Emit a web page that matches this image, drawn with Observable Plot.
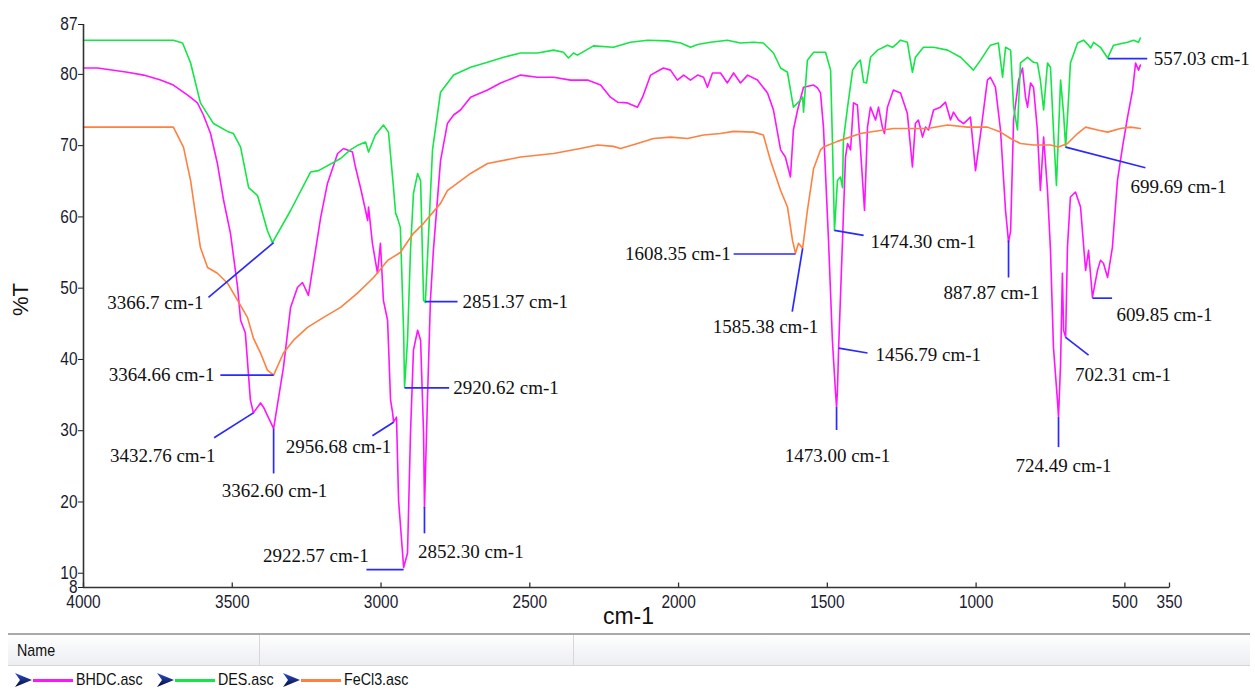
<!DOCTYPE html>
<html><head><meta charset="utf-8">
<script src="https://cdn.jsdelivr.net/npm/d3@7"></script>
<script src="https://cdn.jsdelivr.net/npm/@observablehq/plot@0.6"></script>
<style>
body{margin:0;background:#fff;width:1255px;height:690px;overflow:hidden;font-family:"Liberation Sans",Arial,sans-serif}
#chart svg{display:block}
.panel{position:relative;height:57px;width:1255px}
.panel .gl{position:absolute;left:8px;right:5px;top:0;height:2px;background:#a9a9a9}
.panel .hdr{position:absolute;left:8px;right:5px;top:2px;height:30px;background:linear-gradient(#fefefe,#eceef2);border-bottom:1px solid #d6d6d6}
.panel .sep{position:absolute;top:2px;height:30px;width:1px;background:#d8d8d8}
.panel .nm{position:absolute;left:17px;top:8px;font-size:17px;color:#111;transform:scaleX(0.84);transform-origin:left center}
.panel .it{position:absolute;top:37px;height:20px;font-size:17px;color:#111;line-height:20px;transform:scaleX(0.84);transform-origin:left center;white-space:nowrap}
.panel .sw{position:absolute;top:46px;height:3px}
</style></head><body>
<div id="chart"></div>
<div class="panel" id="panel">
  <div class="gl"></div><div class="hdr"></div>
  <div class="sep" style="left:259px"></div><div class="sep" style="left:573px"></div>
  <div class="nm">Name</div>
</div>
<script>
// Series: [wavenumber cm-1, %T]
const bhdc = [[4000,80.9],[3953,80.9],[3852,80.3],[3798,79.9],[3741,79.2],[3698,78.5],[3650,77.1],[3617,76.0],[3597,74.3],[3573,71.7],[3550,67.5],[3529,62.3],[3506,57.7],[3482,50.1],[3472,45.5],[3456,43.7],[3439,34.3],[3429,32.5],[3405,33.9],[3395,33.3],[3361,30.3],[3328,38.9],[3304,47.3],[3281,50.1],[3264,50.8],[3244,49.0],[3227,53.5],[3203,59.9],[3180,64.7],[3146,68.9],[3126,69.6],[3096,69.1],[3086,67.0],[3069,64.1],[3052,60.9],[3045,59.5],[3042,61.4],[3029,56.3],[3012,52.1],[3002,56.3],[2992,48.3],[2978,45.5],[2968,34.3],[2961,32.5],[2958,31.2],[2948,31.9],[2941,20.2],[2924,10.8],[2911,12.8],[2901,29.6],[2891,41.3],[2877,44.1],[2867,42.7],[2857,29.6],[2854,19.2],[2844,34.3],[2834,48.3],[2824,55.3],[2800,67.9],[2777,73.1],[2756,74.3],[2733,75.0],[2699,76.8],[2642,77.8],[2598,78.8],[2531,79.9],[2474,79.6],[2420,79.6],[2363,79.2],[2306,79.2],[2262,78.5],[2229,76.8],[2205,76.1],[2172,76.0],[2138,75.4],[2121,76.8],[2094,79.9],[2051,80.9],[2027,80.6],[2004,79.2],[1983,79.9],[1960,79.2],[1936,79.9],[1916,79.6],[1903,78.2],[1886,80.2],[1859,80.2],[1836,78.8],[1815,80.2],[1792,78.8],[1768,79.9],[1735,79.2],[1701,77.4],[1681,75.0],[1657,69.4],[1641,68.4],[1624,65.6],[1614,72.2],[1600,75.0],[1580,78.2],[1546,78.5],[1533,78.1],[1523,77.4],[1513,72.6],[1496,56.7],[1483,42.7],[1473,35.7],[1469,33.3],[1466,35.7],[1462,41.6],[1449,56.7],[1439,68.4],[1432,70.3],[1422,69.4],[1412,76.0],[1399,75.7],[1389,69.8],[1375,60.9],[1365,72.6],[1355,75.4],[1338,73.6],[1328,75.4],[1315,72.6],[1308,71.7],[1298,75.4],[1278,77.8],[1254,77.4],[1231,74.5],[1214,67.0],[1204,73.1],[1194,73.6],[1180,71.2],[1170,72.6],[1160,72.2],[1143,75.0],[1120,75.4],[1103,76.1],[1086,73.6],[1076,74.7],[1059,73.6],[1042,73.1],[1019,74.0],[1002,66.5],[985,71.7],[962,79.2],[952,79.6],[935,78.2],[918,72.2],[901,60.9],[891,56.5],[884,58.0],[874,73.6],[857,79.2],[844,80.9],[834,76.8],[827,75.4],[817,78.8],[807,78.2],[794,72.2],[784,63.7],[773,71.2],[760,63.7],[750,55.3],[740,41.7],[726,33.9],[723,31.9],[716,39.5],[710,52.1],[706,44.1],[699,43.1],[693,55.7],[683,62.8],[666,63.5],[649,61.4],[632,52.5],[622,55.3],[609,48.7],[592,52.5],[582,53.9],[572,53.5],[558,51.5],[542,55.7],[525,65.1],[508,69.8],[491,74.0],[474,77.8],[464,81.6],[454,80.6],[448,81.3]];

const des = [[4000,84.8],[3698,84.8],[3667,84.4],[3640,81.6],[3607,76.0],[3563,73.1],[3516,72.0],[3496,71.7],[3472,69.8],[3445,64.1],[3415,63.0],[3382,58.1],[3365,56.4],[3304,60.9],[3237,66.3],[3210,66.5],[3136,68.2],[3103,69.4],[3076,70.1],[3052,70.5],[3042,69.1],[3019,71.5],[2992,72.9],[2975,71.9],[2958,64.1],[2951,60.5],[2945,59.9],[2935,58.5],[2924,43.7],[2921,36.1],[2911,42.7],[2901,55.3],[2891,63.3],[2877,66.1],[2867,65.1],[2857,48.3],[2851,48.0],[2840,57.7],[2827,69.4],[2810,74.5],[2800,77.5],[2756,79.9],[2699,81.0],[2642,81.7],[2588,82.4],[2531,83.0],[2474,83.0],[2420,83.4],[2387,83.1],[2370,82.3],[2353,83.0],[2340,82.7],[2286,84.0],[2219,83.8],[2162,84.5],[2104,84.8],[2037,84.7],[1993,84.4],[1960,83.8],[1936,84.2],[1893,84.5],[1836,84.8],[1792,84.4],[1748,84.5],[1715,84.4],[1681,83.0],[1657,80.9],[1634,80.3],[1614,75.4],[1597,76.1],[1583,76.8],[1580,74.7],[1567,82.0],[1546,83.1],[1506,83.1],[1489,80.6],[1483,70.8],[1476,58.1],[1466,65.1],[1456,65.6],[1449,64.1],[1446,70.8],[1432,75.4],[1415,80.6],[1399,81.6],[1389,82.0],[1378,78.9],[1368,78.8],[1355,82.4],[1331,83.4],[1298,84.1],[1281,83.8],[1264,84.4],[1254,84.8],[1231,84.5],[1214,80.3],[1204,82.4],[1177,83.8],[1143,83.8],[1096,83.4],[1052,82.4],[1009,80.6],[985,82.0],[952,84.1],[925,84.4],[911,79.6],[901,83.8],[884,83.4],[874,75.4],[861,72.2],[851,81.6],[827,82.4],[807,81.7],[794,81.6],[784,79.2],[773,75.0],[760,81.6],[750,81.0],[740,72.2],[730,64.4],[716,79.2],[706,74.5],[699,69.8],[689,76.8],[683,81.6],[659,84.4],[639,84.8],[622,84.1],[615,83.7],[605,84.5],[582,83.8],[558,82.3],[538,84.1],[491,84.5],[471,84.8],[454,84.5],[448,85.1]];

const fecl3 = [[4000,72.6],[3698,72.6],[3664,69.8],[3640,65.1],[3624,60.5],[3607,55.7],[3583,52.9],[3550,52.1],[3516,50.7],[3482,48.3],[3449,45.9],[3429,43.0],[3405,40.9],[3382,38.5],[3361,37.8],[3328,40.9],[3294,42.7],[3247,44.5],[3193,45.9],[3136,47.3],[3079,49.3],[3025,51.5],[2978,53.9],[2935,55.0],[2924,55.7],[2891,57.7],[2857,59.1],[2800,61.9],[2777,63.7],[2699,66.1],[2642,67.5],[2531,68.4],[2420,68.9],[2330,69.6],[2272,70.1],[2219,69.9],[2195,69.6],[2138,70.3],[2084,71.0],[2027,71.2],[1970,71.0],[1916,71.5],[1859,71.7],[1815,72.0],[1748,71.9],[1715,71.5],[1691,67.9],[1657,63.7],[1634,61.4],[1617,56.7],[1607,54.9],[1597,56.3],[1583,55.6],[1567,60.9],[1546,66.8],[1523,69.4],[1513,69.8],[1466,70.6],[1389,71.7],[1278,72.4],[1163,72.4],[1096,72.9],[1029,72.6],[962,72.6],[918,71.9],[884,71.0],[851,70.3],[807,70.1],[750,70.1],[723,69.8],[693,70.3],[659,71.7],[632,72.6],[592,72.2],[558,71.9],[515,72.4],[481,72.6],[448,72.4]];

// Peak annotations: point on curve (x1,y1), leader end (x2,y2), label position (tx,ty)
const annots = [
  {label:"3366.7 cm-1",  x1:3361,y1:56.4, x2:3580,y2:48.7, tx:3597,ty:48.0, a:"end"},
  {label:"3364.66 cm-1", x1:3361,y1:37.8, x2:3540,y2:37.8, tx:3560,ty:37.8, a:"end"},
  {label:"3432.76 cm-1", x1:3429,y1:32.5, x2:3561,y2:29.0, tx:3734,ty:26.4, a:"middle"},
  {label:"3362.60 cm-1", x1:3361,y1:30.3, x2:3361,y2:24.0, tx:3358,ty:21.6, a:"middle"},
  {label:"2956.68 cm-1", x1:2958,y1:31.2, x2:3029,y2:29.3, tx:3143,ty:27.7, a:"middle"},
  {label:"2922.57 cm-1", x1:2924,y1:10.5, x2:3049,y2:10.5, tx:3219,ty:12.5, a:"middle"},
  {label:"2852.30 cm-1", x1:2854,y1:19.3, x2:2854,y2:15.6, tx:2698,ty:13.0, a:"middle"},
  {label:"2920.62 cm-1", x1:2921,y1:36.0, x2:2771,y2:36.0, tx:2757,ty:36.0, a:"start"},
  {label:"2851.37 cm-1", x1:2851,y1:48.1, x2:2743,y2:48.1, tx:2726,ty:48.1, a:"start"},
  {label:"1608.35 cm-1", x1:1607,y1:54.8, x2:1815,y2:54.8, tx:1825,ty:54.8, a:"end"},
  {label:"1585.38 cm-1", x1:1583,y1:55.6, x2:1618,y2:46.7, tx:1708,ty:44.5, a:"middle"},
  {label:"1474.30 cm-1", x1:1476,y1:58.1, x2:1378,y2:57.4, tx:1355,ty:56.5, a:"start"},
  {label:"1456.79 cm-1", x1:1462,y1:41.6, x2:1365,y2:40.9, tx:1338,ty:40.6, a:"start"},
  {label:"1473.00 cm-1", x1:1469,y1:33.3, x2:1469,y2:30.1, tx:1466,ty:26.5, a:"middle"},
  {label:"887.87 cm-1",  x1:891, y1:56.7, x2:891, y2:51.5, tx:948, ty:49.3, a:"middle"},
  {label:"724.49 cm-1",  x1:723, y1:31.9, x2:723, y2:27.7, tx:706, ty:25.1, a:"middle"},
  {label:"702.31 cm-1",  x1:699, y1:43.1, x2:622, y2:40.6, tx:506, ty:37.8, a:"middle"},
  {label:"609.85 cm-1",  x1:609, y1:48.6, x2:543, y2:48.6, tx:367, ty:46.2, a:"middle"},
  {label:"699.69 cm-1",  x1:699, y1:69.8, x2:431, y2:66.9, tx:320, ty:64.2, a:"middle"},
  {label:"557.03 cm-1",  x1:557, y1:82.2, x2:425, y2:82.2, tx:403, ty:82.2, a:"start"}
];

const xDomain = [4000, 350];
const yDomain = [8, 87];
const xTicks = [4000,3500,3000,2500,2000,1500,1000,500,350];
const yTicks = [87,80,70,60,50,40,30,20,10,8];
const series = [
  {name:"BHDC.asc", color:"#ff14ff", data:bhdc},
  {name:"DES.asc", color:"#14e646", data:des},
  {name:"FeCl3.asc", color:"#ff8040", data:fecl3}
];

const tickUp = {draw(c){ c.moveTo(0,0); c.lineTo(0,-5); }};
const serif = "'Liberation Serif','Times New Roman',serif";
const sans = "'Liberation Sans',Arial,sans-serif";
const annStyle = {fontFamily: serif, fontSize: 19, fill: "#111"};

const chart = Plot.plot({
  width: 1255, height: 633,
  marginLeft: 83, marginRight: 86, marginTop: 24, marginBottom: 46,
  style: {fontFamily: sans, color: "#1b1b30", background: "#fff"},
  x: {domain: xDomain, axis: null},
  y: {domain: yDomain, axis: null},
  marks: [
    ...series.map(s => Plot.line(s.data, {x: d => d[0], y: d => d[1], stroke: s.color, strokeWidth: 1.6})),
    Plot.link(annots, {x1: "x1", y1: "y1", x2: "x2", y2: "y2", stroke: "#2a2aff", strokeWidth: 1.7}),
    Plot.text(annots.filter(d => d.a === "start"), {x: "tx", y: "ty", text: "label", textAnchor: "start", ...annStyle}),
    Plot.text(annots.filter(d => d.a === "end"), {x: "tx", y: "ty", text: "label", textAnchor: "end", ...annStyle}),
    Plot.text(annots.filter(d => d.a === "middle"), {x: "tx", y: "ty", text: "label", textAnchor: "middle", ...annStyle}),
    Plot.ruleX([xDomain[0]], {stroke: "#333", strokeWidth: 1.6}),
    Plot.ruleY([yDomain[0]], {stroke: "#333", strokeWidth: 1.6}),
    Plot.axisY({ticks: yTicks, tickSize: 5, tickPadding: 1, fontSize: 18, label: null, tickFormat: d => String(d)}),
    Plot.axisX({ticks: xTicks, tickSize: 0, tickPadding: 8, fontSize: 18, label: null, tickFormat: d => String(d)}),
    Plot.dot(xTicks, {x: d => d, frameAnchor: "bottom", symbol: tickUp, stroke: "#333", strokeWidth: 1.3, fill: "none"}),
    Plot.text(["%T"], {frameAnchor: "left", dx: -63, dy: 10, rotate: -90, fontSize: 22, fontFamily: sans, fill: "#111"}),
    Plot.text(["cm-1"], {frameAnchor: "bottom", dx: 2, dy: 36, fontSize: 23, fontFamily: sans, fill: "#111"})
  ]
});
document.getElementById("chart").appendChild(chart);

// condense the axis tick labels like the reference's narrow face
chart.querySelectorAll('g[aria-label="x-axis tick label"] text, g[aria-label="y-axis tick label"] text').forEach(t => {
  const L = t.getComputedTextLength();
  if (L > 0) { t.setAttribute("textLength", (L * 0.86).toFixed(1)); t.setAttribute("lengthAdjust", "spacingAndGlyphs"); }
});

// legend row
const panel = document.getElementById("panel");
const legendPos = [15, 157, 283];
series.forEach((s, i) => {
  const x0 = legendPos[i];
  const chev = document.createElementNS("http://www.w3.org/2000/svg", "svg");
  chev.setAttribute("width", 18); chev.setAttribute("height", 16);
  chev.style.cssText = `position:absolute;left:${x0}px;top:39px`;
  chev.innerHTML = `<defs><linearGradient id="cg${i}" x1="0" y1="0" x2="0" y2="1"><stop offset="0" stop-color="#2a4fd8"/><stop offset="1" stop-color="#050a30"/></linearGradient></defs><polygon points="0,1 17,8 0,15 5,8" fill="url(#cg${i})"/>`;
  panel.appendChild(chev);
  const sw = document.createElement("div");
  sw.className = "sw";
  sw.style.left = (x0 + 18) + "px"; sw.style.width = "40px"; sw.style.background = s.color;
  panel.appendChild(sw);
  const t = document.createElement("div");
  t.className = "it"; t.style.left = (x0 + 61) + "px"; t.textContent = s.name;
  panel.appendChild(t);
});
</script>
</body></html>
